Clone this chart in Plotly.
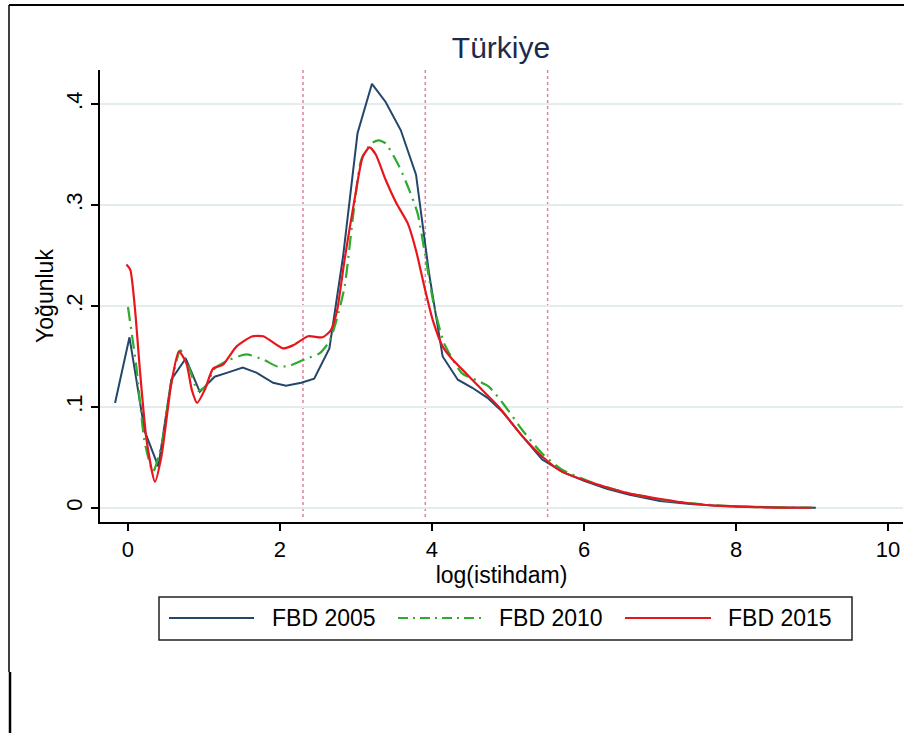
import plotly.graph_objects as go

# ---------------- data ----------------
x_2005 = [-0.17, 0.02, 0.22, 0.40, 0.57, 0.76, 0.945, 1.14, 1.31, 1.51, 1.69, 1.91, 2.08, 2.28,
          2.45, 2.65, 2.83, 3.02, 3.21, 3.39, 3.59, 3.79, 3.96, 4.14, 4.34, 4.53, 4.73, 4.93,
          5.19, 5.45, 5.71, 6.0, 6.3, 6.6, 7.0, 7.4, 7.8, 8.2, 8.6, 9.05]
y_2005 = [0.104, 0.169, 0.076, 0.041, 0.127, 0.148, 0.115, 0.130, 0.134, 0.139, 0.134, 0.124, 0.121, 0.124,
          0.128, 0.158, 0.249, 0.371, 0.420, 0.402, 0.374, 0.330, 0.233, 0.150, 0.127, 0.119, 0.109, 0.095,
          0.071, 0.048, 0.036, 0.027, 0.019, 0.013, 0.007, 0.004, 0.002, 0.001, 0.0004, 0.0002]

x_2010 = [0.0, 0.11, 0.22, 0.33, 0.45, 0.56, 0.69, 0.80, 0.92, 1.02, 1.14, 1.34, 1.56, 1.78, 1.97,
          2.13, 2.35, 2.52, 2.65, 2.74, 2.85, 2.96, 3.07, 3.20, 3.30, 3.39, 3.57, 3.70, 3.81, 3.92,
          4.03, 4.16, 4.40, 4.60, 4.75, 4.97, 5.19, 5.45, 5.71, 6.15, 6.59, 7.03, 7.5, 8.0, 8.5, 9.0]
y_2010 = [0.199, 0.140, 0.065, 0.036, 0.065, 0.120, 0.156, 0.140, 0.116, 0.120, 0.138, 0.147, 0.152, 0.147, 0.140,
          0.141, 0.148, 0.153, 0.165, 0.185, 0.219, 0.288, 0.345, 0.361, 0.364, 0.361, 0.338, 0.315, 0.292, 0.246,
          0.199, 0.163, 0.133, 0.126, 0.120, 0.100, 0.077, 0.054, 0.038, 0.024, 0.0145, 0.008, 0.004, 0.0015, 0.0005, 0.0002]

x_2015 = [-0.02, 0.03, 0.09, 0.16, 0.245, 0.355, 0.44, 0.57, 0.67, 0.77, 0.84, 0.91, 1.01, 1.12, 1.25,
          1.43, 1.64, 1.78, 2.04, 2.17, 2.37, 2.56, 2.67, 2.75, 2.85, 2.98, 3.09, 3.18, 3.26, 3.39,
          3.53, 3.68, 3.79, 3.90, 4.01, 4.14, 4.27, 4.40, 4.62, 4.88, 5.19, 5.45, 5.71, 6.15, 6.59,
          7.03, 7.38, 7.8, 8.3, 9.0]
y_2015 = [0.241, 0.236, 0.199, 0.134, 0.067, 0.026, 0.051, 0.123, 0.155, 0.143, 0.117, 0.104, 0.117, 0.138, 0.142,
          0.160, 0.170, 0.170, 0.158, 0.161, 0.170, 0.169, 0.176, 0.195, 0.246, 0.305, 0.348, 0.357, 0.350, 0.325,
          0.302, 0.282, 0.255, 0.219, 0.186, 0.160, 0.147, 0.137, 0.120, 0.100, 0.071, 0.051, 0.036, 0.024, 0.0145,
          0.0086, 0.0047, 0.002, 0.0007, 0.0002]

series_names = ["FBD 2005", "FBD 2010", "FBD 2015"]
ref_lines = [2.303, 3.912, 5.521]          # log(10), log(50), log(250)
y_tickvals = [0, 0.1, 0.2, 0.3, 0.4]
y_ticktext = ["0", ".1", ".2", ".3", ".4"]
x_tickvals = [0, 2, 4, 6, 8, 10]

# ---------------- layout geometry ----------------
W, H = 907, 733
L, R, T, B = 100, 903, 70, 522


def px(xp):
    return (xp - L) / (R - L)


def py(yp):
    return (B - yp) / (B - T)


blue, green, red = "#24466b", "#2eaa2e", "#e8161c"
font_family = "Liberation Sans, Arial, sans-serif"

fig = go.Figure()
fig.add_trace(go.Scatter(x=x_2005, y=y_2005, mode="lines", name=series_names[0],
                         line=dict(color=blue, width=2)))
fig.add_trace(go.Scatter(x=x_2010, y=y_2010, mode="lines", name=series_names[1],
                         line=dict(color=green, width=2.2, dash="14px,6px,2px,6px",
                                   shape="spline", smoothing=0.6)))
fig.add_trace(go.Scatter(x=x_2015, y=y_2015, mode="lines", name=series_names[2],
                         line=dict(color=red, width=2.2, shape="spline", smoothing=0.6)))

for xv in ref_lines:
    fig.add_shape(type="line", xref="x", yref="paper", x0=xv, x1=xv, y0=py(517), y1=1,
                  line=dict(color="rgba(218,100,125,0.8)", width=1.5, dash="dot"), layer="below")

# outer frame lines
fig.add_shape(type="line", xref="paper", yref="paper", x0=px(9), x1=px(904), y0=py(5), y1=py(5),
              line=dict(color="black", width=2))
fig.add_shape(type="line", xref="paper", yref="paper", x0=px(9), x1=px(9), y0=py(5), y1=py(672),
              line=dict(color="black", width=1.5))
fig.add_shape(type="line", xref="paper", yref="paper", x0=px(10), x1=px(10), y0=py(672), y1=py(733),
              line=dict(color="black", width=2.5))

# legend box (custom, Stata style)
fig.add_shape(type="rect", xref="paper", yref="paper", x0=px(159), x1=px(852), y0=py(597), y1=py(640),
              line=dict(color="#222222", width=1.5), fillcolor="white")
leg_y = 618
leg_items = [(169, 254, 270, blue, "solid", 2),
             (398, 485, 497, green, "10px,5px,2px,5px", 2.2),
             (625, 711, 726, red, "solid", 2.2)]
for (a, b, tx, col, dsh, w), name in zip(leg_items, series_names):
    fig.add_shape(type="line", xref="paper", yref="paper", x0=px(a), x1=px(b), y0=py(leg_y), y1=py(leg_y),
                  line=dict(color=col, width=w, dash=dsh))
    fig.add_annotation(xref="paper", yref="paper", x=px(tx), y=py(leg_y), text=name, showarrow=False,
                       xanchor="left", yanchor="middle", font=dict(size=23, color="black", family=font_family))

fig.update_layout(
    width=W, height=H,
    margin=dict(l=L, r=W - R, t=T, b=H - B),
    paper_bgcolor="white", plot_bgcolor="white",
    showlegend=False,
    font=dict(family=font_family, color="black"),
    title=dict(text="Türkiye", x=px(501), xref="paper", xanchor="center",
               y=1 - 47 / H, yref="container", yanchor="middle",
               font=dict(size=30, color="#1c2b4d", family=font_family)),
    xaxis=dict(range=[-0.368, 10.197], tickvals=x_tickvals, ticks="outside", ticklen=7,
               tickwidth=1.5, tickcolor="black", showline=True, linecolor="black", linewidth=1.5,
               showgrid=False, zeroline=False, tickfont=dict(size=22),
               title=dict(text="log(istihdam)", font=dict(size=23), standoff=6)),
    yaxis=dict(range=[-0.0139, 0.4337], tickvals=y_tickvals, ticktext=y_ticktext, ticks="outside",
               ticklen=7, tickwidth=1.5, tickcolor="black", tickangle=-90, showline=True,
               linecolor="black", linewidth=1.5, showgrid=True, gridcolor="#e4eded", gridwidth=2,
               zeroline=False, tickfont=dict(size=22),
               title=dict(text="Yoğunluk", font=dict(size=23), standoff=2)),
)

fig.write_html("out.html")
